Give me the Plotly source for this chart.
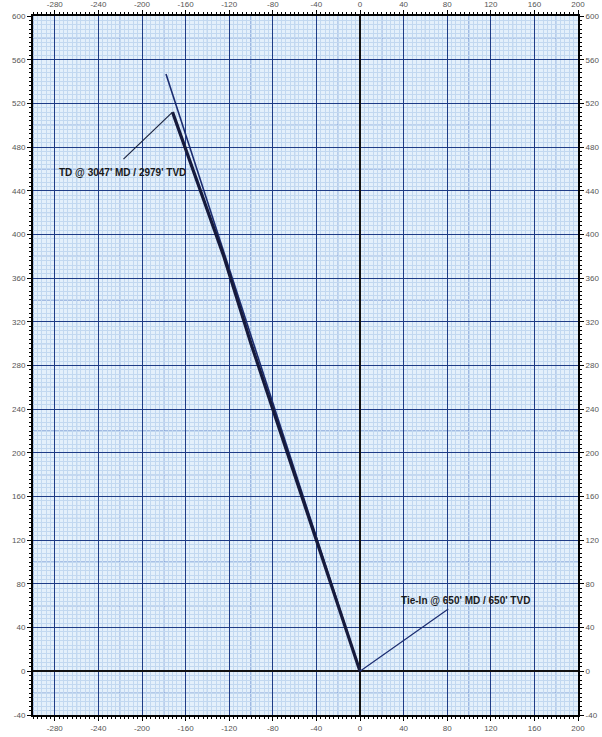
import numpy as np
import plotly.graph_objects as go

# ---- data ----
plan_x = [0, -178]
plan_y = [0, 547]
actual_x = [0, -20, -60, -100, -125, -150, -172]
actual_y = [0, 60, 180, 300, 380, 450, 512]

td_leader_x = [-172, -217]
td_leader_y = [512, 469]
tie_leader_x = [0, 81]
tie_leader_y = [0, 57]

td_label = "TD @ 3047' MD / 2979' TVD"
td_label_pos = (-218, 457)
tie_label = "Tie-In @ 650' MD / 650' TVD"
tie_label_pos = (97, 65)

x_ticks = list(range(-280, 201, 40))
y_ticks = list(range(-40, 601, 40))
x_range = [-300, 200]
y_range = [-40, 600]

NAVY = "#1f3c86"
MID = "#5a80c8"
LIGHT = "#c2d8f0"
BG = "#e4f0fb"

fig = go.Figure()

fig.add_trace(go.Scatter(x=plan_x, y=plan_y, mode="lines",
                         line=dict(color="#1b2c70", width=1.6), hoverinfo="skip", showlegend=False))
fig.add_trace(go.Scatter(x=actual_x, y=actual_y, mode="lines",
                         line=dict(color="#161a3c", width=3.2), hoverinfo="skip", showlegend=False))
fig.add_trace(go.Scatter(x=td_leader_x, y=td_leader_y, mode="lines",
                         line=dict(color="#1b2440", width=1.2), hoverinfo="skip", showlegend=False))
fig.add_trace(go.Scatter(x=tie_leader_x, y=tie_leader_y, mode="lines",
                         line=dict(color="#1b2c70", width=1.2), hoverinfo="skip", showlegend=False))
# invisible trace for the top/right overlay axes
fig.add_trace(go.Scatter(x=[x_range[0]], y=[y_range[0]], xaxis="x2", yaxis="y2", mode="markers",
                         marker=dict(opacity=0), hoverinfo="skip", showlegend=False))

# 20-unit intermediate grid lines
shapes = []
for v in range(-300, 201, 20):
    if v % 40 != 0:
        shapes.append(dict(type="line", xref="x", yref="paper", x0=v, x1=v, y0=0, y1=1,
                           line=dict(color=MID, width=1), layer="between"))
for v in range(-40, 601, 20):
    if v % 40 != 0:
        shapes.append(dict(type="line", xref="paper", yref="y", x0=0, x1=1, y0=v, y1=v,
                           line=dict(color=MID, width=1), layer="between"))

tick_font = dict(family="Arial", size=8, color="#555")

common_x = dict(range=x_range, tickvals=x_ticks, ticktext=[str(v) for v in x_ticks],
                ticks="outside", ticklen=4, tickcolor="black", tickfont=tick_font,
                showline=True, linecolor="black", linewidth=2, automargin=False)
common_y = dict(range=y_range, tickvals=y_ticks, ticktext=[str(v) for v in y_ticks],
                ticks="outside", ticklen=4, tickcolor="black", tickfont=tick_font,
                showline=True, linecolor="black", linewidth=2, automargin=False)

fig.update_layout(
    width=602, height=737,
    margin=dict(l=33, r=24, t=16, b=22),
    paper_bgcolor="white",
    plot_bgcolor=BG,
    shapes=shapes,
    xaxis=dict(**common_x, side="bottom", showgrid=True, gridcolor=NAVY, gridwidth=1.4,
               zeroline=True, zerolinecolor="#111", zerolinewidth=2,
               minor=dict(dtick=4, tick0=0, ticks="outside", ticklen=2, tickcolor="black",
                          showgrid=True, gridcolor=LIGHT, gridwidth=1)),
    yaxis=dict(**common_y, side="left", showgrid=True, gridcolor=NAVY, gridwidth=1.4,
               zeroline=True, zerolinecolor="#111", zerolinewidth=2,
               minor=dict(dtick=4, tick0=0, ticks="outside", ticklen=2, tickcolor="black",
                          showgrid=True, gridcolor=LIGHT, gridwidth=1)),
    xaxis2=dict(**common_x, side="top", overlaying="x", anchor="y2", showgrid=False, zeroline=False,
                minor=dict(dtick=4, tick0=0, ticks="outside", ticklen=2, tickcolor="black")),
    yaxis2=dict(**common_y, side="right", overlaying="y", anchor="x2", showgrid=False, zeroline=False,
                minor=dict(dtick=4, tick0=0, ticks="outside", ticklen=2, tickcolor="black")),
    annotations=[
        dict(x=td_label_pos[0], y=td_label_pos[1], xref="x", yref="y", text="<b>" + td_label + "</b>",
             showarrow=False, font=dict(family="Arial", size=10, color="#1a1a1a")),
        dict(x=tie_label_pos[0], y=tie_label_pos[1], xref="x", yref="y", text="<b>" + tie_label + "</b>",
             showarrow=False, font=dict(family="Arial", size=10, color="#1a1a1a")),
    ],
)

fig.write_html("out.html", config={"displayModeBar": False},
               post_script="document.body.style.margin='0';")
